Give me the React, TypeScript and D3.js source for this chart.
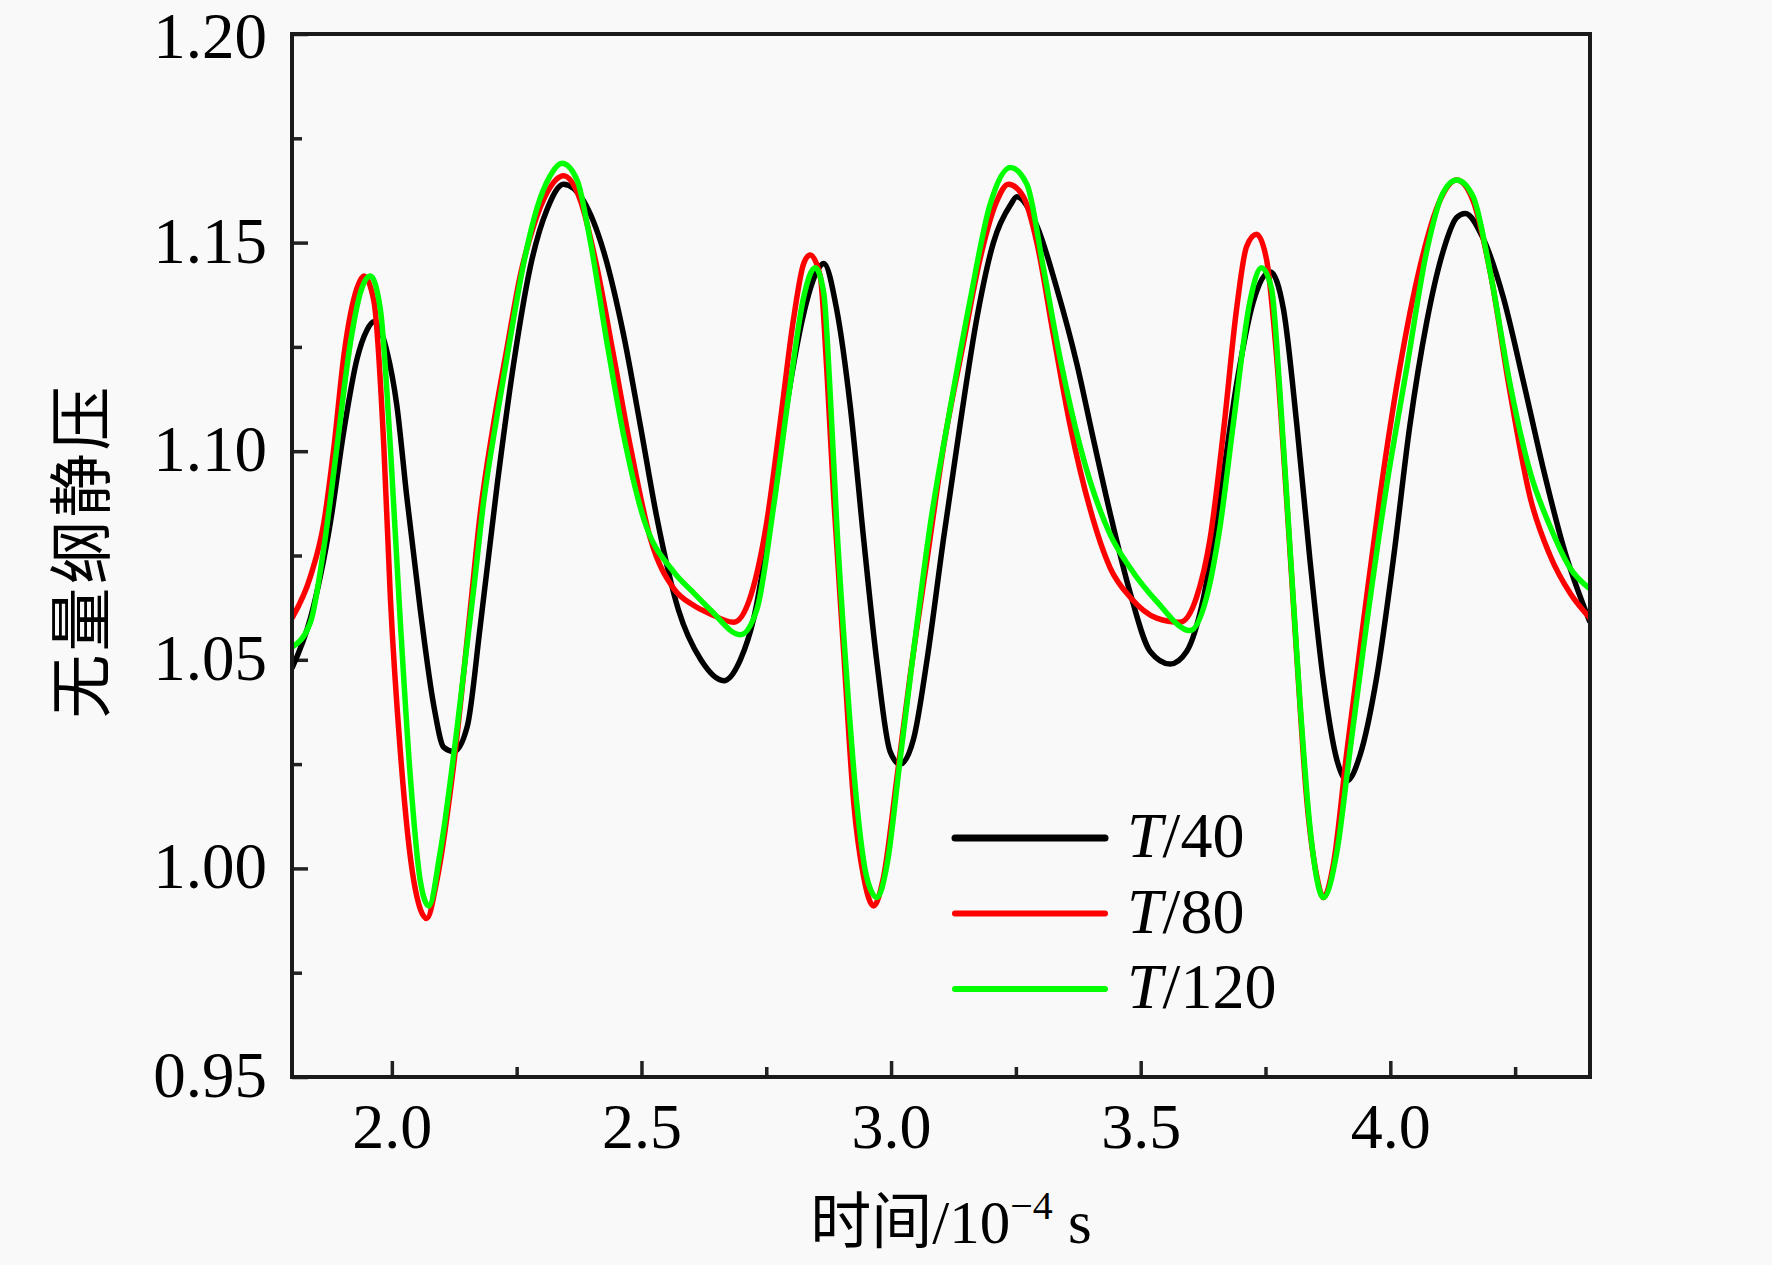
import React, { useEffect, useRef } from "react";
import * as d3 from "d3";

// tick values
const xTicks = [2.0, 2.5, 3.0, 3.5, 4.0];
const xMinorTicks = [2.25, 2.75, 3.25, 3.75, 4.25];
const yTicks = [0.95, 1.0, 1.05, 1.1, 1.15, 1.2];
const yMinorTicks = [0.975, 1.025, 1.075, 1.125, 1.175];

// T/40
const timeT40 = [
  1.8, 1.837, 1.877, 1.904, 1.93, 1.95, 1.964, 1.99, 2.01, 2.03, 2.057, 2.084, 2.104, 2.124,
  2.151, 2.177, 2.211, 2.244, 2.277, 2.311, 2.344, 2.384, 2.424, 2.464, 2.498, 2.531, 2.574,
  2.619, 2.665, 2.698, 2.725, 2.758, 2.791, 2.825, 2.851, 2.865, 2.891, 2.918, 2.945,
  2.972, 2.998, 3.018, 3.045, 3.072, 3.105, 3.139, 3.172, 3.205, 3.239, 3.252, 3.292, 3.332,
  3.372, 3.405, 3.439, 3.479, 3.519, 3.559, 3.592, 3.626, 3.659, 3.692, 3.726, 3.759, 3.786,
  3.813, 3.839, 3.866, 3.893, 3.913, 3.939, 3.973, 4.006, 4.039, 4.073, 4.106, 4.133, 4.15,
  4.186, 4.226, 4.266, 4.306, 4.347, 4.4,
];
const valueT40 = [
  1.048, 1.06, 1.083, 1.105, 1.122, 1.129, 1.131, 1.124, 1.111, 1.089, 1.062, 1.039, 1.029, 1.028,
  1.034, 1.058, 1.092, 1.121, 1.144, 1.158, 1.164, 1.16, 1.148, 1.128, 1.106, 1.084, 1.062,
  1.05, 1.045, 1.05, 1.06, 1.083, 1.111, 1.133, 1.143, 1.145, 1.134, 1.111, 1.079,
  1.049, 1.028, 1.025, 1.031, 1.05, 1.079, 1.107, 1.132, 1.15, 1.159, 1.161, 1.154, 1.139,
  1.121, 1.103, 1.085, 1.066, 1.052, 1.049, 1.052, 1.065, 1.089, 1.116, 1.136, 1.143, 1.134,
  1.106, 1.074, 1.045, 1.026, 1.021, 1.027, 1.046, 1.074, 1.106, 1.131, 1.148, 1.156, 1.157,
  1.151, 1.137, 1.117, 1.096, 1.077, 1.059,
];

// T/80
const timeT80 = [
  1.8, 1.837, 1.864, 1.884, 1.904, 1.93, 1.944, 1.964, 1.984, 1.997, 2.017, 2.044, 2.07, 2.09,
  2.124, 2.157, 2.177, 2.203, 2.231, 2.257, 2.284, 2.311, 2.344, 2.378, 2.411, 2.444, 2.478,
  2.518, 2.565, 2.605, 2.638, 2.685, 2.718, 2.751, 2.778, 2.805, 2.825, 2.838, 2.858, 2.871,
  2.885, 2.905, 2.925, 2.945, 2.965, 2.985, 3.012, 3.038, 3.072, 3.105, 3.145, 3.178, 3.212,
  3.235, 3.265, 3.292, 3.325, 3.359, 3.399, 3.439, 3.479, 3.532, 3.579, 3.612, 3.639, 3.666,
  3.692, 3.712, 3.732, 3.752, 3.772, 3.792, 3.812, 3.833, 3.853, 3.866, 3.886, 3.913, 3.946,
  3.979, 4.019, 4.059, 4.099, 4.133, 4.166, 4.2, 4.24, 4.28, 4.32, 4.36, 4.4,
];
const valueT80 = [
  1.06, 1.07, 1.083, 1.101, 1.123, 1.139, 1.142, 1.136, 1.101, 1.065, 1.028, 0.997, 0.988, 0.997,
  1.025, 1.062, 1.085, 1.106, 1.125, 1.142, 1.154, 1.162, 1.166, 1.16, 1.144, 1.123, 1.101,
  1.079, 1.067, 1.063, 1.061, 1.059, 1.065, 1.083, 1.107, 1.132, 1.145, 1.147, 1.142, 1.12,
  1.089, 1.052, 1.016, 0.998, 0.991, 0.998, 1.022, 1.046, 1.074, 1.101, 1.126, 1.146, 1.16,
  1.164, 1.161, 1.15, 1.128, 1.106, 1.086, 1.072, 1.065, 1.06, 1.059, 1.065, 1.079, 1.105,
  1.134, 1.149, 1.152, 1.146, 1.123, 1.089, 1.052, 1.016, 0.998, 0.993, 1.001, 1.028, 1.059,
  1.089, 1.12, 1.144, 1.16, 1.165, 1.16, 1.143, 1.114, 1.089, 1.075, 1.066, 1.06,
];

// T/120
const timeT120 = [
  1.8, 1.837, 1.864, 1.89, 1.917, 1.937, 1.957, 1.977, 1.997, 2.017, 2.037, 2.057, 2.074, 2.097,
  2.131, 2.164, 2.184, 2.21, 2.237, 2.264, 2.29, 2.317, 2.341, 2.371, 2.398, 2.431, 2.464,
  2.504, 2.565, 2.605, 2.638, 2.698, 2.731, 2.765, 2.798, 2.825, 2.848, 2.865, 2.878, 2.891,
  2.911, 2.931, 2.951, 2.972, 2.992, 3.018, 3.045, 3.078, 3.118, 3.158, 3.198, 3.239, 3.272,
  3.305, 3.339, 3.379, 3.439, 3.479, 3.532, 3.599, 3.632, 3.659, 3.686, 3.719, 3.742, 3.762,
  3.779, 3.799, 3.819, 3.839, 3.866, 3.893, 3.919, 3.953, 3.993, 4.033, 4.073, 4.106, 4.133,
  4.166, 4.2, 4.24, 4.28, 4.32, 4.36, 4.4,
];
const valueT120 = [
  1.053, 1.059, 1.077, 1.101, 1.126, 1.138, 1.142, 1.134, 1.101, 1.059, 1.022, 0.997, 0.991, 1.004,
  1.034, 1.067, 1.088, 1.108, 1.127, 1.145, 1.158, 1.166, 1.169, 1.165, 1.15, 1.126, 1.104,
  1.084, 1.071, 1.066, 1.062, 1.056, 1.062, 1.087, 1.116, 1.137, 1.144, 1.138, 1.114, 1.083,
  1.046, 1.016, 0.998, 0.993, 1.001, 1.026, 1.052, 1.082, 1.11, 1.136, 1.159, 1.168, 1.164,
  1.144, 1.122, 1.101, 1.08, 1.072, 1.064, 1.057, 1.065, 1.082, 1.107, 1.136, 1.144, 1.139,
  1.114, 1.077, 1.04, 1.01, 0.993, 1.004, 1.028, 1.059, 1.092, 1.12, 1.148, 1.162, 1.165,
  1.161, 1.143, 1.116, 1.095, 1.082, 1.072, 1.067,
];

const seriesDenoms = ["40", "80", "120"];
const seriesColors = ["#000000", "#ff0000", "#00ff00"];

const WIDTH = 1772;
const HEIGHT = 1265;
const margin = { top: 34, right: 182, bottom: 188, left: 292 };
const serif = "'Liberation Serif', 'Times New Roman', serif";
const cjk = "'Liberation Serif', 'Noto Sans CJK SC', serif";

const App: React.FC = () => {
  const svgRef = useRef<SVGSVGElement>(null);

  useEffect(() => {
    if (!svgRef.current) return;
    const svg = d3.select(svgRef.current);
    svg.selectAll("*").remove();

    const x0 = margin.left;
    const x1 = WIDTH - margin.right;
    const y0 = margin.top;
    const y1 = HEIGHT - margin.bottom;

    const xScale = d3.scaleLinear().domain([1.8, 4.4]).range([x0, x1]);
    const yScale = d3.scaleLinear().domain([0.95, 1.2]).range([y1, y0]);

    svg.append("rect").attr("width", WIDTH).attr("height", HEIGHT).attr("fill", "#f9f9f9");

    // minor ticks
    svg.append("g")
      .attr("transform", `translate(0,${y1})`)
      .call(d3.axisBottom(xScale).tickValues(xMinorTicks).tickSizeInner(-10).tickSizeOuter(0).tickFormat(() => ""))
      .call(g => g.select(".domain").remove())
      .selectAll("line").attr("stroke", "#222").attr("stroke-width", 3.5);

    svg.append("g")
      .attr("transform", `translate(${x0},0)`)
      .call(d3.axisLeft(yScale).tickValues(yMinorTicks).tickSizeInner(-10).tickSizeOuter(0).tickFormat(() => ""))
      .call(g => g.select(".domain").remove())
      .selectAll("line").attr("stroke", "#222").attr("stroke-width", 3.5);

    // major ticks
    const xAxis = svg.append("g")
      .attr("transform", `translate(0,${y1})`)
      .call(d3.axisBottom(xScale).tickValues(xTicks).tickSizeInner(-16).tickSizeOuter(0).tickPadding(26).tickFormat(d3.format(".1f")));
    xAxis.select(".domain").remove();
    xAxis.selectAll("line").attr("stroke", "#222").attr("stroke-width", 3.5);
    xAxis.selectAll("text").attr("font-family", serif).attr("font-size", 64).attr("fill", "#000");

    const yAxis = svg.append("g")
      .attr("transform", `translate(${x0},0)`)
      .call(d3.axisLeft(yScale).tickValues(yTicks).tickSizeInner(-16).tickSizeOuter(0).tickPadding(25).tickFormat(d3.format(".2f")));
    yAxis.select(".domain").remove();
    yAxis.selectAll("line").attr("stroke", "#222").attr("stroke-width", 3.5);
    yAxis.selectAll<SVGTextElement, number>("text")
      .attr("font-family", serif).attr("font-size", 65).attr("fill", "#000")
      .attr("dy", d => (d === 1.2 ? "0.36em" : "0.3em"));

    // series
    const seriesData = [
      d3.zip(timeT40, valueT40),
      d3.zip(timeT80, valueT80),
      d3.zip(timeT120, valueT120),
    ];
    const lineGen = d3.line<number[]>()
      .x(d => xScale(d[0]))
      .y(d => yScale(d[1]))
      .curve(d3.curveMonotoneX);

    const plot = svg.append("g");
    plot.append("clipPath").attr("id", "plot-clip")
      .append("rect").attr("x", x0).attr("y", y0).attr("width", x1 - x0).attr("height", y1 - y0);
    seriesData.forEach((data, i) => {
      plot.append("path")
        .datum(data)
        .attr("clip-path", "url(#plot-clip)")
        .attr("fill", "none")
        .attr("stroke", seriesColors[i])
        .attr("stroke-width", 5.5)
        .attr("stroke-linejoin", "round")
        .attr("d", lineGen);
    });

    // frame
    svg.append("rect")
      .attr("x", x0).attr("y", y0)
      .attr("width", x1 - x0).attr("height", y1 - y0)
      .attr("fill", "none").attr("stroke", "#1a1a1a").attr("stroke-width", 4);

    // legend
    const legend = svg.append("g").attr("transform", "translate(955,838)");
    seriesDenoms.forEach((denom, i) => {
      const row = legend.append("g").attr("transform", `translate(0,${i * 75.5})`);
      row.append("line")
        .attr("x1", 0).attr("x2", 150)
        .attr("stroke", seriesColors[i])
        .attr("stroke-width", i === 0 ? 7 : 6)
        .attr("stroke-linecap", "round");
      const t = row.append("text")
        .attr("x", 172).attr("y", 19)
        .attr("font-family", serif).attr("font-size", 64).attr("fill", "#000");
      t.append("tspan").attr("font-style", "italic").text("T");
      t.append("tspan").text(`/${denom}`);
    });

    // axis titles
    const xTitle = svg.append("text")
      .attr("x", (x0 + x1) / 2 + 10).attr("y", 1243)
      .attr("text-anchor", "middle")
      .attr("font-family", cjk).attr("font-size", 61).attr("fill", "#000");
    xTitle.append("tspan").text("时间/10");
    xTitle.append("tspan").attr("font-size", 40).attr("dy", -24).text("−4");
    xTitle.append("tspan").attr("dy", 24).text(" s");

    svg.append("text")
      .attr("transform", `translate(104,551) rotate(-90)`)
      .attr("text-anchor", "middle")
      .attr("font-family", "'Noto Sans CJK SC', sans-serif")
      .attr("font-size", 64)
      .attr("letter-spacing", 3)
      .attr("fill", "#000")
      .text("无量纲静压");
  }, []);

  return (
    <div style={{ position: "absolute", left: 0, top: 0 }}>
      <svg ref={svgRef} width={WIDTH} height={HEIGHT} style={{ display: "block" }} />
    </div>
  );
};

export default App;
